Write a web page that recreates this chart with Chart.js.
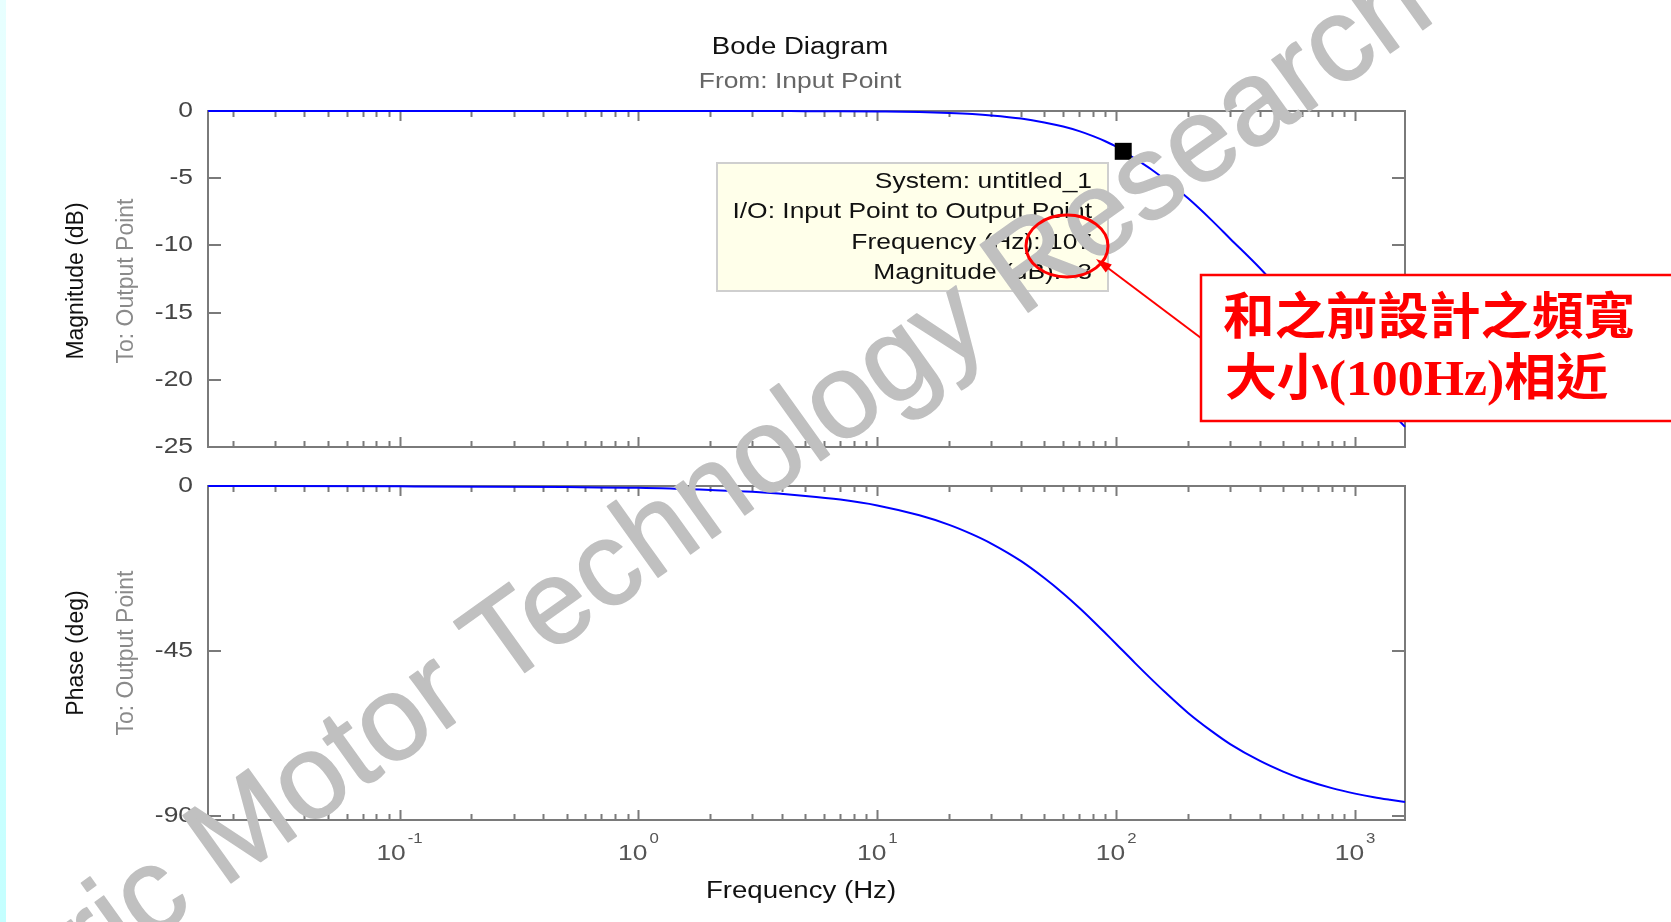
<!DOCTYPE html>
<html>
<head>
<meta charset="utf-8">
<title>Bode Diagram</title>
<script src="https://cdn.jsdelivr.net/npm/chart.js@4.4.1/dist/chart.umd.min.js"></script>
<style>
  html, body { margin: 0; padding: 0; background: #fff; width: 1671px; height: 922px; overflow: hidden; }
  #edge { position: absolute; left: 0; top: 0; width: 6px; height: 922px; background: linear-gradient(#e8ffff, #c4ffff); }
  canvas { position: absolute; left: 0; top: 0; }
</style>
</head>
<body>
<div id="edge"></div>
<canvas id="mag" width="1671" height="922"></canvas>
<canvas id="phase" width="1671" height="922"></canvas>
<script>
// Frequency response samples (Hz, dB, degrees)
const freqHz   = [0.0158, 0.1, 0.5, 1, 2, 3, 5, 7, 10, 15, 20, 25, 30, 40, 50, 60, 70, 80, 90, 100, 107, 120, 140, 160, 200, 250, 300, 400, 500, 600, 800, 1000, 1200, 1400, 1618];
const magDb    = [0, 0, 0, 0, 0, 0, -0.01, -0.02, -0.04, -0.08, -0.15, -0.23, -0.33, -0.56, -0.85, -1.16, -1.5, -1.87, -2.25, -2.65, -3.0, -3.55, -4.33, -5.1, -6.5, -8.1, -9.5, -11.7, -13.6, -15.1, -17.5, -19.4, -21.0, -22.3, -23.5];
const phaseDeg = [0, -0.1, -0.3, -0.5, -1.1, -1.6, -2.7, -3.7, -5.3, -8.0, -10.6, -13.2, -15.7, -20.5, -25.1, -29.3, -33.2, -36.8, -40.1, -43.1, -45.0, -48.3, -52.6, -56.2, -61.9, -66.8, -70.4, -75.0, -77.9, -79.9, -82.4, -83.9, -84.9, -85.6, -86.2];

// Data tip marker
const markerFreq = [107];
const markerMag  = [-3];

// Axis ranges and tick values
const freqRange  = [0.01578, 1618];
const magRange   = [-25, 0];
const phaseRange = [-91.1, 0];
const magTicks   = [0, -5, -10, -15, -20, -25];
const phaseTicks = [0, -45, -90];
const decadeExps = [-1, 0, 1, 2, 3];

// Texts
const titleText    = 'Bode Diagram';
const subtitleText = 'From: Input Point';
const magLabel     = 'Magnitude (dB)';
const phaseLabel   = 'Phase (deg)';
const outLabel     = 'To: Output Point';
const freqLabel    = 'Frequency (Hz)';
const datatipLines = [
  'System: untitled_1',
  'I/O: Input Point to Output Point',
  'Frequency (Hz): ' + markerFreq[0],
  'Magnitude (dB): ' + markerMag[0]
];
const noteLines = ['和之前設計之頻寬', '大小(100Hz)相近'];
const watermark = 'Electric Motor Technology Research';

const SANS = '"Liberation Sans", Arial, sans-serif';
const AXIS = '#7a7a7a';
const BLUE = '#0000ff';

// Text helper: horizontal stretch (sx) or fit-to-width, optional rotation
function txt(ctx, s, x, y, o) {
  ctx.save();
  ctx.font = (o.weight || 'normal') + ' ' + o.size + 'px ' + (o.family || SANS);
  ctx.fillStyle = o.color || '#000';
  ctx.textBaseline = o.baseline || 'middle';
  ctx.textAlign = o.align || 'center';
  ctx.translate(x, y);
  if (o.rot) ctx.rotate(o.rot);
  let sx = o.sx || 1.2;
  if (o.width) sx = o.width / ctx.measureText(s).width;
  ctx.scale(sx, o.sy || 1);
  ctx.fillText(s, 0, 0);
  ctx.restore();
}

// Axes box, inward log/linear ticks and y tick labels
function framePlugin(yTicks) {
  return {
    id: 'frame',
    beforeDatasetsDraw(chart) {
      const { ctx, chartArea: a } = chart;
      const x = chart.scales.x, y = chart.scales.y;
      ctx.save();
      ctx.strokeStyle = AXIS;
      ctx.lineWidth = 2;
      ctx.strokeRect(a.left, a.top, a.right - a.left, a.bottom - a.top);
      ctx.beginPath();
      for (let e = -2; e <= 3; e++) {
        for (let m = 1; m <= 9; m++) {
          const f = m * Math.pow(10, e);
          if (f < freqRange[0] || f > freqRange[1]) continue;
          const px = Math.round(x.getPixelForValue(f)) + 0.5;
          const len = m === 1 ? 10 : 6;
          ctx.moveTo(px, a.top); ctx.lineTo(px, a.top + len);
          ctx.moveTo(px, a.bottom); ctx.lineTo(px, a.bottom - len);
        }
      }
      yTicks.forEach(v => {
        const py = Math.round(y.getPixelForValue(v));
        ctx.moveTo(a.left, py); ctx.lineTo(a.left + 13, py);
        ctx.moveTo(a.right, py); ctx.lineTo(a.right - 13, py);
      });
      ctx.stroke();
      yTicks.forEach(v => {
        txt(ctx, String(v), 193, y.getPixelForValue(v), { size: 22, color: '#444', align: 'right' });
      });
      ctx.restore();
    }
  };
}

function yLabels(ctx, main, cy) {
  txt(ctx, main, 77, cy, { size: 23, color: '#111', rot: -Math.PI / 2, sx: 1 });
  txt(ctx, outLabel, 127, cy, { size: 23, color: '#8a8a8a', rot: -Math.PI / 2, sx: 1 });
}

const commonScales = (yr) => ({
  x: { type: 'logarithmic', min: freqRange[0], max: freqRange[1], display: false },
  y: { type: 'linear', min: yr[0], max: yr[1], display: false }
});

const baseOptions = {
  responsive: false,
  animation: false,
  devicePixelRatio: 1,
  events: [],
  plugins: { legend: { display: false }, tooltip: { enabled: false } }
};

// Magnitude plot
new Chart(document.getElementById('mag'), {
  type: 'line',
  data: {
    datasets: [
      {
        data: markerFreq.map((f, i) => ({ x: f, y: markerMag[i] })),
        showLine: false,
        pointStyle: 'rect',
        pointRadius: 12,
        backgroundColor: '#000',
        borderColor: '#000',
        borderWidth: 0,
        clip: false
      },
      {
        data: freqHz.map((f, i) => ({ x: f, y: magDb[i] })),
        borderColor: BLUE,
        borderWidth: 2,
        pointRadius: 0,
        cubicInterpolationMode: 'monotone',
        clip: false
      }
    ]
  },
  options: Object.assign({}, baseOptions, {
    layout: { padding: { left: 208, right: 1671 - 1405, top: 111, bottom: 922 - 447 } },
    scales: commonScales(magRange)
  }),
  plugins: [framePlugin(magTicks), {
    id: 'magDecor',
    afterDraw(chart) {
      const ctx = chart.ctx;
      txt(ctx, titleText, 800, 48, { size: 23, color: '#111' });
      txt(ctx, subtitleText, 800, 82, { size: 22, color: '#666' });
      yLabels(ctx, magLabel, 281);
      // data tip box
      ctx.save();
      ctx.fillStyle = '#ffffea';
      ctx.strokeStyle = '#cfcfcf';
      ctx.lineWidth = 2;
      ctx.fillRect(717, 163, 391, 128);
      ctx.strokeRect(717, 163, 391, 128);
      ctx.restore();
      const rows = [182, 212, 243, 273];
      datatipLines.forEach((s, i) => txt(ctx, s, 1092, rows[i], { size: 22, color: '#111', align: 'right' }));
    }
  }]
});

// Phase plot, axis labels, watermark and callout
new Chart(document.getElementById('phase'), {
  type: 'line',
  data: {
    datasets: [{
      data: freqHz.map((f, i) => ({ x: f, y: phaseDeg[i] })),
      borderColor: BLUE,
      borderWidth: 2,
      pointRadius: 0,
      cubicInterpolationMode: 'monotone',
      clip: false
    }]
  },
  options: Object.assign({}, baseOptions, {
    layout: { padding: { left: 208, right: 1671 - 1405, top: 486, bottom: 922 - 820 } },
    scales: commonScales(phaseRange)
  }),
  plugins: [framePlugin(phaseTicks), {
    id: 'phaseDecor',
    afterDraw(chart) {
      const ctx = chart.ctx;
      const x = chart.scales.x;
      yLabels(ctx, phaseLabel, 653);
      // decade labels 10^k
      decadeExps.forEach(k => {
        const px = x.getPixelForValue(Math.pow(10, k));
        ctx.save();
        ctx.font = '22px ' + SANS;
        const w10 = ctx.measureText('10').width * 1.2;
        ctx.font = '14px ' + SANS;
        const wk = ctx.measureText(String(k)).width * 1.2;
        ctx.restore();
        const left = px - (w10 + 2 + wk) / 2;
        txt(ctx, '10', left, 854, { size: 22, color: '#555', align: 'left' });
        txt(ctx, String(k), left + w10 + 2, 839, { size: 14, color: '#555', align: 'left' });
      });
      txt(ctx, freqLabel, 801, 892, { size: 23, color: '#111' });

      // watermark
      ctx.save();
      ctx.translate(-124, 1137);
      ctx.rotate(-35.6 * Math.PI / 180);
      ctx.font = '120px ' + SANS;
      ctx.fillStyle = '#c0c0c0';
      ctx.strokeStyle = '#c0c0c0';
      ctx.lineWidth = 1.5;
      ctx.lineJoin = 'round';
      ctx.textBaseline = 'alphabetic';
      ctx.textAlign = 'left';
      ctx.fillText(watermark, 0, 0);
      ctx.strokeText(watermark, 0, 0);
      ctx.restore();

      // red callout
      ctx.save();
      ctx.strokeStyle = '#ff0000';
      ctx.fillStyle = '#ff0000';
      ctx.lineWidth = 3;
      ctx.beginPath();
      ctx.ellipse(1067, 246, 41, 31, 0, 0, Math.PI * 2);
      ctx.stroke();
      const sx0 = 1201, sy0 = 338, tx = 1096, ty = 259;
      const ang = Math.atan2(ty - sy0, tx - sx0);
      ctx.lineWidth = 2;
      ctx.beginPath();
      ctx.moveTo(sx0, sy0);
      ctx.lineTo(tx - 12 * Math.cos(ang), ty - 12 * Math.sin(ang));
      ctx.stroke();
      ctx.beginPath();
      ctx.moveTo(tx, ty);
      ctx.lineTo(tx - 16 * Math.cos(ang) + 5 * Math.sin(ang), ty - 16 * Math.sin(ang) - 5 * Math.cos(ang));
      ctx.lineTo(tx - 16 * Math.cos(ang) - 5 * Math.sin(ang), ty - 16 * Math.sin(ang) + 5 * Math.cos(ang));
      ctx.closePath();
      ctx.fill();
      ctx.fillStyle = '#fff';
      ctx.lineWidth = 2.5;
      ctx.fillRect(1201, 275, 500, 146);
      ctx.strokeRect(1201, 275, 500, 146);
      ctx.restore();
      const noteFont = '"Liberation Serif", "Noto Sans CJK TC", serif';
      txt(ctx, noteLines[0], 1223, 321, { size: 50, weight: 'bold', family: noteFont, color: '#ff0000', align: 'left', width: 412 });
      txt(ctx, noteLines[1], 1225, 382, { size: 50, weight: 'bold', family: noteFont, color: '#ff0000', align: 'left', width: 383 });
    }
  }]
});
</script>
</body>
</html>
